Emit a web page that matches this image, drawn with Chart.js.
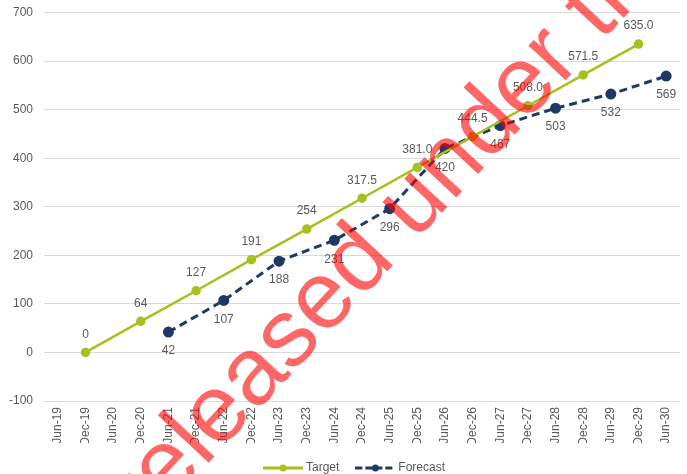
<!DOCTYPE html>
<html>
<head>
<meta charset="utf-8">
<script src="https://cdn.jsdelivr.net/npm/chart.js@4.4.1/dist/chart.umd.min.js"></script>
<style>
    html, body { margin: 0; padding: 0; background: #fff; }
    #wrap { width: 687px; height: 474px; }
</style>
</head>
<body>
<div id="wrap"><canvas id="chart"></canvas></div>
<script>
// Half-year periods on the x axis
const periods = ['Jun-19', 'Dec-19', 'Jun-20', 'Dec-20', 'Jun-21', 'Dec-21', 'Jun-22', 'Dec-22',
    'Jun-23', 'Dec-23', 'Jun-24', 'Dec-24', 'Jun-25', 'Dec-25', 'Jun-26', 'Dec-26',
    'Jun-27', 'Dec-27', 'Jun-28', 'Dec-28', 'Jun-29', 'Dec-29', 'Jun-30'];

// Target: one point each December
const targetValues = [null, 0, null, 64, null, 127, null, 191, null, 254, null, 317.5,
    null, 381, null, 444.5, null, 508, null, 571.5, null, 635, null];
const targetText = [null, '0', null, '64', null, '127', null, '191', null, '254', null, '317.5',
    null, '381.0', null, '444.5', null, '508.0', null, '571.5', null, '635.0', null];

// Forecast: one point each June from Jun-21
const forecastValues = [null, null, null, null, 42, null, 107, null, 188, null, 231, null,
    296, null, 420, null, 467, null, 503, null, 532, null, 569];
const forecastText = [null, null, null, null, '42', null, '107', null, '188', null, '231', null,
    '296', null, '420', null, '467', null, '503', null, '532', null, '569'];

const yMin = -100;
const yMax = 700;
const yStep = 100;

const GREEN = '#A3C21E';
const NAVY = '#1F3864';
const TEXT = '#595959';
const FONT = '"Liberation Sans", Arial, sans-serif';

// legend marker: line with a dot in the middle
function legendMarker(color, dash) {
    const c = document.createElement('canvas');
    c.width = 40;
    c.height = 10;
    const g = c.getContext('2d');
    g.strokeStyle = color;
    g.lineWidth = 3;
    g.setLineDash(dash);
    g.beginPath();
    g.moveTo(0, 5);
    g.lineTo(40, 5);
    g.stroke();
    g.fillStyle = color;
    g.beginPath();
    g.arc(20, 5, 3.5, 0, Math.PI * 2);
    g.fill();
    return c;
}

const markers = [legendMarker(GREEN, []), legendMarker(NAVY, [7, 3])];
const pointText = [targetText, forecastText];
const textOffset = [-18, 19];

// value labels above target / below forecast points
const valueLabels = {
    id: 'valueLabels',
    afterDatasetsDraw(chart) {
        const ctx = chart.ctx;
        ctx.save();
        ctx.font = '12px ' + FONT;
        ctx.fillStyle = TEXT;
        ctx.textAlign = 'center';
        ctx.textBaseline = 'middle';
        chart.data.datasets.forEach((ds, i) => {
            chart.getDatasetMeta(i).data.forEach((pt, j) => {
                const text = pointText[i][j];
                if (text == null) return;
                ctx.fillText(text, pt.x, pt.y + textOffset[i]);
            });
        });
        ctx.restore();
    }
};

// the red stamp laid across the picture
const watermark = {
    id: 'watermark',
    afterDraw(chart) {
        const ctx = chart.ctx;
        ctx.save();
        ctx.translate(146, 530);
        ctx.rotate(-47 * Math.PI / 180);
        ctx.font = '96px ' + FONT;
        ctx.fillStyle = 'rgba(255, 0, 0, 0.6)';
        ctx.textBaseline = 'alphabetic';
        ctx.fillText('released under the', 0, 0);
        ctx.restore();
    }
};

new Chart(document.getElementById('chart'), {
    type: 'line',
    data: {
        labels: periods,
        datasets: [
            {
                label: 'Target',
                data: targetValues,
                borderColor: GREEN,
                backgroundColor: GREEN,
                borderWidth: 2.5,
                pointRadius: 3.5,
                pointHoverRadius: 3.5,
                spanGaps: true,
                tension: 0
            },
            {
                label: 'Forecast',
                data: forecastValues,
                borderColor: NAVY,
                backgroundColor: NAVY,
                borderWidth: 3,
                borderDash: [8, 5],
                pointRadius: 4,
                pointHoverRadius: 4,
                spanGaps: true,
                tension: 0
            }
        ]
    },
    options: {
        responsive: true,
        maintainAspectRatio: false,
        animation: false,
        // right side is pulled out so the legend sits where it does in the original
        layout: { padding: { top: 0, right: -24, left: 0, bottom: -10 } },
        plugins: {
            tooltip: { enabled: false },
            legend: {
                position: 'bottom',
                labels: {
                    usePointStyle: true,
                    pointStyleWidth: 34,
                    padding: 19,
                    color: TEXT,
                    font: { family: FONT, size: 12 },
                    generateLabels: chart => chart.data.datasets.map((ds, i) => ({
                        text: ds.label,
                        pointStyle: markers[i],
                        datasetIndex: i,
                        fontColor: TEXT,
                        fillStyle: ds.borderColor,
                        strokeStyle: ds.borderColor,
                        lineWidth: 0,
                        hidden: false
                    }))
                }
            }
        },
        scales: {
            x: {
                offset: true,
                grid: { display: false, drawTicks: false },
                border: { display: false },
                afterFit: scale => {
                    scale.height = 42;
                    scale.paddingLeft = 0;
                    scale.paddingRight = 2;
                },
                ticks: {
                    color: TEXT,
                    font: { family: FONT, size: 12 },
                    minRotation: 90,
                    maxRotation: 90,
                    autoSkip: false,
                    padding: 6
                }
            },
            y: {
                min: yMin,
                max: yMax,
                grid: { color: '#D9D9D9', lineWidth: 1, drawTicks: false },
                border: { display: false },
                afterFit: scale => {
                    scale.width = 44;
                    scale.paddingTop = 12.5;
                    scale.paddingBottom = 0;
                },
                ticks: {
                    stepSize: yStep,
                    color: TEXT,
                    font: { family: FONT, size: 12 },
                    padding: 11
                }
            }
        }
    },
    plugins: [valueLabels, watermark]
});
</script>
</body>
</html>
